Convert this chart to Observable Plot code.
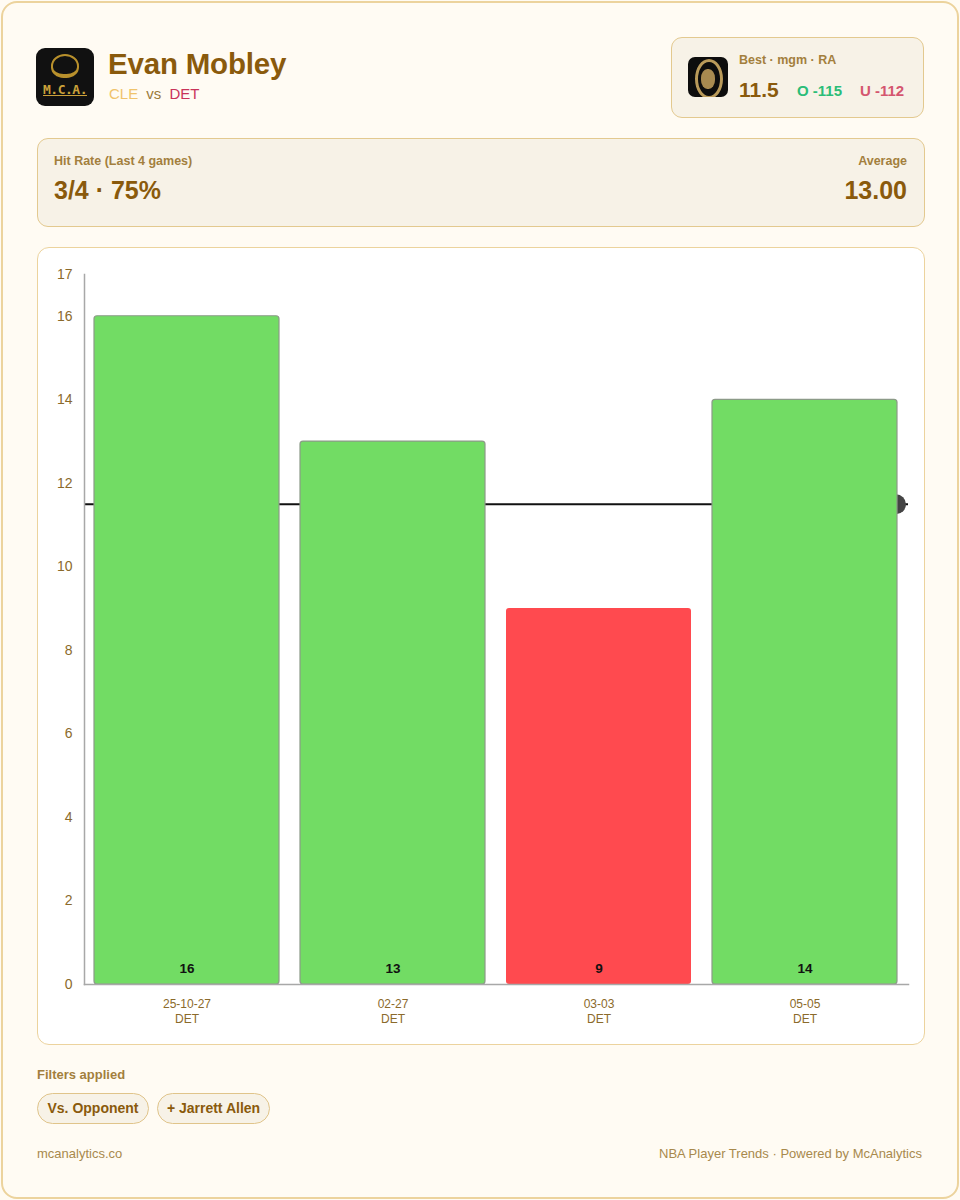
<!DOCTYPE html>
<html>
<head>
<meta charset="utf-8">
<script src="https://cdn.jsdelivr.net/npm/d3@7"></script>
<script src="https://cdn.jsdelivr.net/npm/@observablehq/plot@0.6"></script>
<style>
  html, body { margin: 0; padding: 0; background: #fffbf3; }
  body { width: 960px; height: 1200px; position: relative; font-family: "Liberation Sans", Arial, Helvetica, sans-serif; }
  .frame { position: absolute; left: 1px; top: 1px; width: 954px; height: 1194px; border: 2px solid #ecd39d; border-radius: 16px; background: #fffbf3; }
  .abs { position: absolute; }
  .logo { left: 36px; top: 48px; width: 58px; height: 58px; background: #111; border-radius: 9px; overflow: hidden; }
  .logo .lion { position: absolute; left: 15px; top: 6px; width: 28px; height: 24px; border-radius: 50% 50% 45% 45%; border: 2px solid #b8902c; border-bottom-width: 4px; box-sizing: border-box; }
  .logo .mca { position: absolute; left: 0; width: 58px; top: 34px; text-align: center; color: #caa13a; font: bold 13px "DejaVu Sans Mono", monospace; text-decoration: underline; letter-spacing: -0.5px; }
  .name { left: 108px; top: 47px; font-size: 29.5px; font-weight: bold; color: #8a5a0c; letter-spacing: -0.2px; }
  .teams { left: 109px; top: 85px; font-size: 15px; }
  .box { background: #f7f2e7; border: 1px solid #e3c98f; border-radius: 11px; box-sizing: border-box; }
  .odds { left: 671px; top: 37px; width: 253px; height: 81px; }
  .icon { left: 688px; top: 57px; width: 40px; height: 40px; background: #0d0d0d; border-radius: 7px; overflow: hidden; }
  .icon .ring { position: absolute; left: 7px; top: 2px; width: 28px; height: 40px; border-radius: 50%; border: 3px solid #b99a5a; box-sizing: border-box; }
  .icon .face { position: absolute; left: 13px; top: 12px; width: 14px; height: 20px; border-radius: 45%; background: #a88a50; }
  .lbl { font-size: 12.5px; font-weight: bold; color: #a37f3d; }
  .hit { left: 37px; top: 138px; width: 888px; height: 89px; }
  .card { left: 37px; top: 247px; width: 888px; height: 798px; background: #fff; border: 1px solid #ecd39d; border-radius: 12px; box-sizing: border-box; }
  #chart { position: absolute; left: 0px; top: 0px; }
  .pill { top: 1093px; height: 31px; line-height: 29px; border: 1px solid #e0c48a; background: #f7f2e7; border-radius: 16px; box-sizing: border-box; font-size: 14px; font-weight: bold; color: #8a5a0c; text-align: center; }
  .foot { font-size: 13px; color: #a8894c; top: 1146px; }
</style>
</head>
<body>
<div class="frame"></div>

<div class="abs logo"><div class="lion"></div><div class="mca">M.C.A.</div></div>
<div class="abs name">Evan Mobley</div>
<div class="abs teams"><span style="color:#f0c36a">CLE</span> <span style="color:#9a7a3a;margin:0 4px">vs</span> <span style="color:#c9335a">DET</span></div>

<div class="abs box odds"></div>
<div class="abs icon"><div class="ring"></div><div class="face"></div></div>
<div class="abs lbl" style="left:739px;top:53px;">Best · mgm · RA</div>
<div class="abs" style="left:739px;top:78px;font-size:21px;font-weight:bold;color:#8a5a0c;">11.5</div>
<div class="abs" style="left:797px;top:82px;font-size:15px;font-weight:bold;color:#2bbd78;">O -115</div>
<div class="abs" style="left:860px;top:82px;font-size:15px;font-weight:bold;color:#d4566f;">U -112</div>

<div class="abs box hit"></div>
<div class="abs lbl" style="left:54px;top:154px;">Hit Rate (Last 4 games)</div>
<div class="abs" style="left:54px;top:176px;font-size:25px;font-weight:bold;color:#8a5a0c;">3/4 · 75%</div>
<div class="abs lbl" style="right:53px;top:154px;text-align:right;">Average</div>
<div class="abs" style="right:53px;top:176px;font-size:25px;font-weight:bold;color:#8a5a0c;text-align:right;">13.00</div>

<div class="abs card"><div id="chart"></div></div>

<div class="abs lbl" style="left:37px;top:1067px;font-size:13px;">Filters applied</div>
<div class="abs pill" style="left:37px;width:112px;">Vs. Opponent</div>
<div class="abs pill" style="left:157px;width:113px;">+ Jarrett Allen</div>

<div class="abs foot" style="left:37px;">mcanalytics.co</div>
<div class="abs foot" style="right:38px;text-align:right;">NBA Player Trends · Powered by McAnalytics</div>

<script>
const dates = ["25-10-27", "02-27", "03-03", "05-05"];
const opponents = ["DET", "DET", "DET", "DET"];
const values = [16, 13, 9, 14];
const line = 11.5;
const yTicks = [0, 2, 4, 6, 8, 10, 12, 14, 16, 17];

const games = dates.map((d, i) => ({
  key: d + "\n" + opponents[i],
  value: values[i],
  hit: values[i] > line
}));

const chart = Plot.plot({
  width: 886,
  height: 796,
  marginLeft: 46,
  marginRight: 16,
  marginTop: 26,
  marginBottom: 60,
  style: { background: "transparent", fontFamily: "'Liberation Sans', Arial, sans-serif", overflow: "visible" },
  x: { domain: games.map(d => d.key), paddingInner: 0.1, paddingOuter: 0.05, label: null },
  y: { domain: [0, 17], label: null },
  marks: [
    Plot.ruleY([line], { stroke: "#111", strokeWidth: 2 }),
    Plot.dot([games[games.length - 1]], { x: "key", y: () => line, r: 10, fill: "#444", dx: 91 }),
    Plot.barY(games, {
      x: "key", y: "value",
      fill: d => d.hit ? "#72dc64" : "#ff4a4f",
      stroke: d => d.hit ? "#8c9a88" : "none",
      strokeWidth: 1.2,
      rx: 3
    }),
    Plot.text(games, { x: "key", y: 0, text: d => String(d.value), dy: -16, fontSize: 13.5, fontWeight: "bold", fill: "#111" }),
    Plot.frame({ anchor: "left", stroke: "#a8a8a8", strokeWidth: 1.5 }),
    Plot.frame({ anchor: "bottom", stroke: "#a8a8a8", strokeWidth: 1.5 }),
    Plot.axisY({ ticks: yTicks, tickSize: 0, tickPadding: 12, fontSize: 14, color: "#8b6a2b", label: null }),
    Plot.axisX({ tickSize: 0, tickPadding: 13, fontSize: 12, lineHeight: 1.25, color: "#8b6a2b", label: null })
  ]
});
document.getElementById("chart").appendChild(chart);
</script>
</body>
</html>
